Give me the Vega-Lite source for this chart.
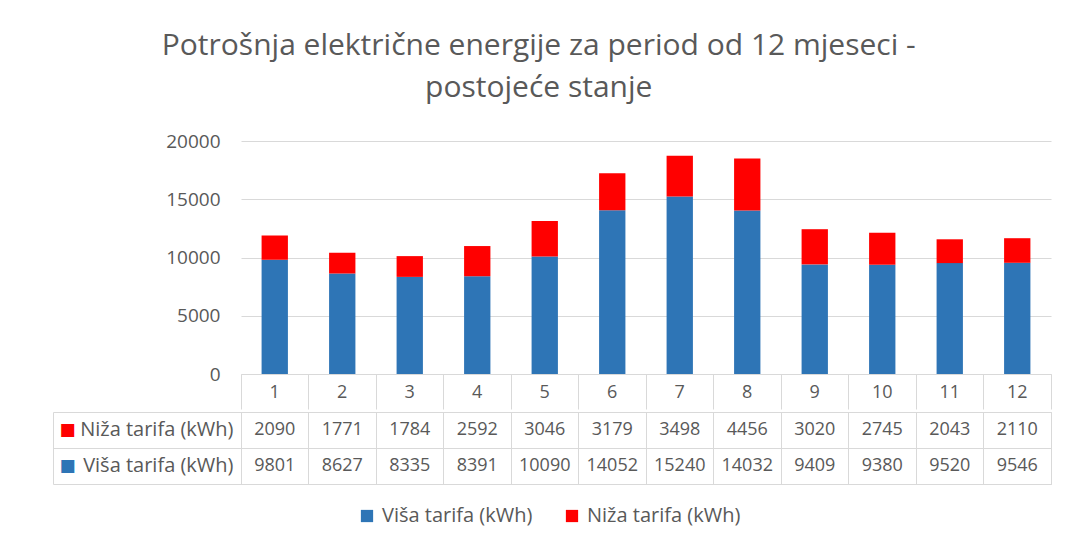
{
  "$schema": "https://vega.github.io/schema/vega-lite/v6.json",
  "background": "white",
  "padding": {"left": 52, "top": 31, "right": 10, "bottom": 10},
  "title": {
    "text": ["Potrošnja električne energije za period od 12 mjeseci -", "postojeće stanje"],
    "font": "Open Sans",
    "fontSize": 30,
    "fontWeight": "normal",
    "color": "#595959",
    "lineHeight": 42,
    "anchor": "middle",
    "dx": -13,
    "offset": 29
  },
  "data": {
    "values": [
      {"mjesec": 1, "tarifa": "Viša tarifa (kWh)", "kwh": 9801},
      {"mjesec": 2, "tarifa": "Viša tarifa (kWh)", "kwh": 8627},
      {"mjesec": 3, "tarifa": "Viša tarifa (kWh)", "kwh": 8335},
      {"mjesec": 4, "tarifa": "Viša tarifa (kWh)", "kwh": 8391},
      {"mjesec": 5, "tarifa": "Viša tarifa (kWh)", "kwh": 10090},
      {"mjesec": 6, "tarifa": "Viša tarifa (kWh)", "kwh": 14052},
      {"mjesec": 7, "tarifa": "Viša tarifa (kWh)", "kwh": 15240},
      {"mjesec": 8, "tarifa": "Viša tarifa (kWh)", "kwh": 14032},
      {"mjesec": 9, "tarifa": "Viša tarifa (kWh)", "kwh": 9409},
      {"mjesec": 10, "tarifa": "Viša tarifa (kWh)", "kwh": 9380},
      {"mjesec": 11, "tarifa": "Viša tarifa (kWh)", "kwh": 9520},
      {"mjesec": 12, "tarifa": "Viša tarifa (kWh)", "kwh": 9546},
      {"mjesec": 1, "tarifa": "Niža tarifa (kWh)", "kwh": 2090},
      {"mjesec": 2, "tarifa": "Niža tarifa (kWh)", "kwh": 1771},
      {"mjesec": 3, "tarifa": "Niža tarifa (kWh)", "kwh": 1784},
      {"mjesec": 4, "tarifa": "Niža tarifa (kWh)", "kwh": 2592},
      {"mjesec": 5, "tarifa": "Niža tarifa (kWh)", "kwh": 3046},
      {"mjesec": 6, "tarifa": "Niža tarifa (kWh)", "kwh": 3179},
      {"mjesec": 7, "tarifa": "Niža tarifa (kWh)", "kwh": 3498},
      {"mjesec": 8, "tarifa": "Niža tarifa (kWh)", "kwh": 4456},
      {"mjesec": 9, "tarifa": "Niža tarifa (kWh)", "kwh": 3020},
      {"mjesec": 10, "tarifa": "Niža tarifa (kWh)", "kwh": 2745},
      {"mjesec": 11, "tarifa": "Niža tarifa (kWh)", "kwh": 2043},
      {"mjesec": 12, "tarifa": "Niža tarifa (kWh)", "kwh": 2110}
    ]
  },
  "spacing": -9,
  "resolve": {"scale": {"color": "independent"}, "legend": {"color": "independent"}},
  "vconcat": [
    {
      "width": 810,
      "height": 233,
      "mark": {"type": "bar", "width": {"band": 0.39}},
      "encoding": {
        "x": {
          "field": "mjesec",
          "type": "ordinal",
          "scale": {"paddingInner": 0, "paddingOuter": 0},
          "axis": {
            "title": null,
            "labelAngle": 0,
            "bandPosition": 1,
            "tickExtra": true,
            "tickSize": 35,
            "tickColor": "#d9d9d9",
            "domainColor": "#d9d9d9",
            "labelPadding": -17,
            "labelBaseline": "middle",
            "labelFontSize": 18,
            "labelColor": "#595959",
            "grid": false
          }
        },
        "y": {
          "field": "kwh",
          "type": "quantitative",
          "stack": "zero",
          "scale": {"domain": [0, 20000]},
          "axis": {
            "title": null,
            "values": [0, 5000, 10000, 15000, 20000],
            "format": "d",
            "domain": false,
            "ticks": false,
            "labelPadding": 21,
            "labelFontSize": 19,
            "labelColor": "#595959",
            "gridColor": "#d9d9d9"
          }
        },
        "color": {
          "field": "tarifa",
          "type": "nominal",
          "scale": {"domain": ["Viša tarifa (kWh)", "Niža tarifa (kWh)"], "range": ["#2e75b6", "#ff0000"]},
          "legend": null
        },
        "order": {"field": "tarifa", "sort": "descending"}
      }
    },
    {
      "width": 810,
      "height": 72,
      "view": {"stroke": "#d9d9d9"},
      "encoding": {
        "x": {
          "field": "mjesec",
          "type": "ordinal",
          "scale": {"paddingInner": 0, "paddingOuter": 0},
          "axis": {
            "title": null,
            "labels": false,
            "ticks": false,
            "domain": false,
            "grid": true,
            "gridColor": "#d9d9d9",
            "bandPosition": 1,
            "tickExtra": true
          }
        }
      },
      "layer": [
        {
          "mark": {"type": "rect", "opacity": 0},
          "encoding": {
            "y": {
              "field": "tarifa",
              "type": "nominal",
              "scale": {"domain": ["Niža tarifa (kWh)", "Viša tarifa (kWh)"], "paddingInner": 0, "paddingOuter": 0},
              "axis": {
                "orient": "left",
                "offset": 188,
                "title": null,
                "domain": true,
                "domainColor": "#d9d9d9",
                "ticks": false,
                "grid": false,
                "labelExpr": "'■'",
                "labelFont": "DejaVu Sans",
                "labelFontSize": 17,
                "labelAlign": "left",
                "labelBaseline": "middle",
                "labelPadding": -6,
                "labelColor": {"condition": {"test": "datum.value === 'Niža tarifa (kWh)'", "value": "#ff0000"}, "value": "#2e75b6"}
              }
            },
            "color": {
              "field": "tarifa",
              "type": "nominal",
              "scale": {"domain": ["Viša tarifa (kWh)", "Niža tarifa (kWh)"], "range": ["#2e75b6", "#ff0000"]},
              "legend": {
                "orient": "none",
                "legendX": 116,
                "legendY": 94,
                "direction": "horizontal",
                "title": null,
                "symbolType": "square",
                "symbolSize": 150,
                "symbolOpacity": 1,
                "symbolStrokeWidth": 0,
                "labelFont": "Open Sans",
                "labelFontSize": 20,
                "labelColor": "#595959",
                "labelOffset": 5,
                "columnPadding": 29
              }
            }
          }
        },
        {
          "mark": {"type": "text", "font": "Open Sans", "fontSize": 18, "color": "#595959"},
          "encoding": {
            "y": {
              "field": "tarifa",
              "type": "nominal",
              "scale": {"domain": ["Niža tarifa (kWh)", "Viša tarifa (kWh)"], "paddingInner": 0, "paddingOuter": 0},
              "axis": {
                "orient": "left",
                "title": null,
                "domain": true,
                "domainColor": "#d9d9d9",
                "ticks": true,
                "tickSize": 188,
                "tickColor": "#d9d9d9",
                "bandPosition": 1,
                "tickExtra": true,
                "grid": true,
                "gridColor": "#d9d9d9",
                "labelPadding": -180,
                "labelFontSize": 20,
                "labelColor": "#595959"
              }
            },
            "text": {"field": "kwh", "type": "quantitative", "format": "d"}
          }
        }
      ],
      "resolve": {"axis": {"y": "independent"}}
    }
  ],
  "config": {
    "font": "Open Sans",
    "view": {"stroke": null},
    "axis": {"labelFont": "Open Sans"}
  }
}
